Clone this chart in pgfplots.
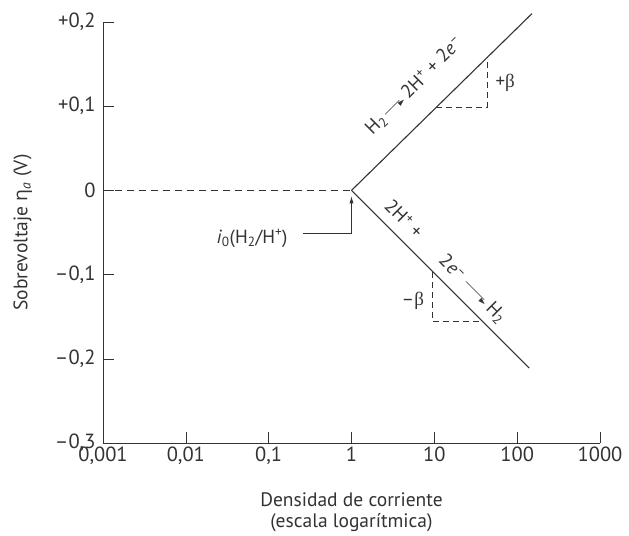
\documentclass[border=0pt]{standalone}
\usepackage{fontspec}
\setmainfont{PT Sans}
\newfontfamily\grk{Open Sans}
\newfontfamily\bet{Liberation Serif}
\newfontfamily\djv{DejaVu Sans}
\usepackage{pgfplots}
\pgfplotsset{compat=1.18}
\usetikzlibrary{arrows.meta,calc}
\definecolor{ink}{gray}{0.2}
\newcommand{\rarr}[1]{\,\rule[0.3em]{#1}{0.5pt}\kern-3pt{\djv\fontsize{9}{9}\selectfont\raisebox{0.06em}{►}}\,}
\newcommand{\afont}{\fontsize{19}{21}\selectfont}
\begin{document}
\begin{tikzpicture}
\begin{axis}[name=ax, scale only axis, width=497pt, height=421pt,
  xmode=log, xmin=0.001, xmax=1000, ymin=-0.3, ymax=0.2,
  axis lines=left, axis line style={-, line width=0.8pt, ink},
  xtick={0.001,0.01,0.1,1,10,100,1000},
  xticklabels={{0,001},{0,01},{0,1},1,10,100,1000},
  ytick={-0.3,-0.2,-0.1,0,0.1,0.2},
  yticklabels={{–0,3},{–0,2},{–0,1},0,{+0,1},{+0,2}},
  xminorticks=false, yminorticks=false,
  tick align=inside, major tick length=11pt,
  tick style={line width=0.6pt, ink},
  ticklabel style={font=\fontsize{20.5}{22}\selectfont, text=ink},
  yticklabel style={xshift=-4pt},
  xlabel={Densidad de corriente\\(escala logarítmica)},
  xlabel style={align=center, font=\fontsize{19.5}{21}\selectfont, text=ink, yshift=-22pt},
  ylabel={Sobrevoltaje {\grk η}\textsubscript{\itshape a} (V)},
  ylabel style={font=\fontsize{19.5}{21}\selectfont, text=ink},
  ylabel shift=16pt,
  clip=false,
]
\addplot[line width=1.1pt, ink] coordinates {(1,0) (151,0.210)};
\addplot[line width=1.1pt, ink] coordinates {(1,0) (140,-0.211)};
\addplot[ink, line width=0.6pt, dash pattern=on 7pt off 5pt] coordinates {(0.001,0) (1,0)};
\addplot[ink, line width=0.6pt, dash pattern=on 6pt off 4pt] coordinates {(10.6,0.099) (43.7,0.099) (43.7,0.158)};
\addplot[ink, line width=0.6pt, dash pattern=on 6pt off 4pt] coordinates {(9.4,-0.097) (9.4,-0.155) (37.5,-0.155)};
\addplot[ink, line width=0.6pt, -{Latex[length=7pt,width=4pt]}] coordinates {(0.26,-0.051) (1,-0.051) (1,-0.007)};
\node[rotate=45, text=ink, font=\afont] at (axis cs:5.8,0.124)
  {H\textsubscript{2}\rarr{20pt}2H\textsuperscript{+} + 2\textit{e}\textsuperscript{–}};
\node[rotate=-45, text=ink, font=\afont] at (axis cs:13.5,-0.085)
  {2H\textsuperscript{+} +\hspace{32pt}2\textit{e}\textsuperscript{–}\hspace{2pt}\rarr{26pt}H\textsubscript{2}};
\node[text=ink, font=\afont] at (axis cs:0.063,-0.057)
  {\textit{i}\textsubscript{0}(H\textsubscript{2}/H\textsuperscript{+})};
\node[text=ink, font=\afont] at (axis cs:71.6,0.128) {+{\bet β}};
\node[text=ink, font=\afont] at (axis cs:5.5,-0.131) {–{\bet β}};
\end{axis}
\path ($(ax.south west)+(-103pt,-91pt)$) rectangle ($(ax.north east)+(29pt,22pt)$);
\end{tikzpicture}
\end{document}
